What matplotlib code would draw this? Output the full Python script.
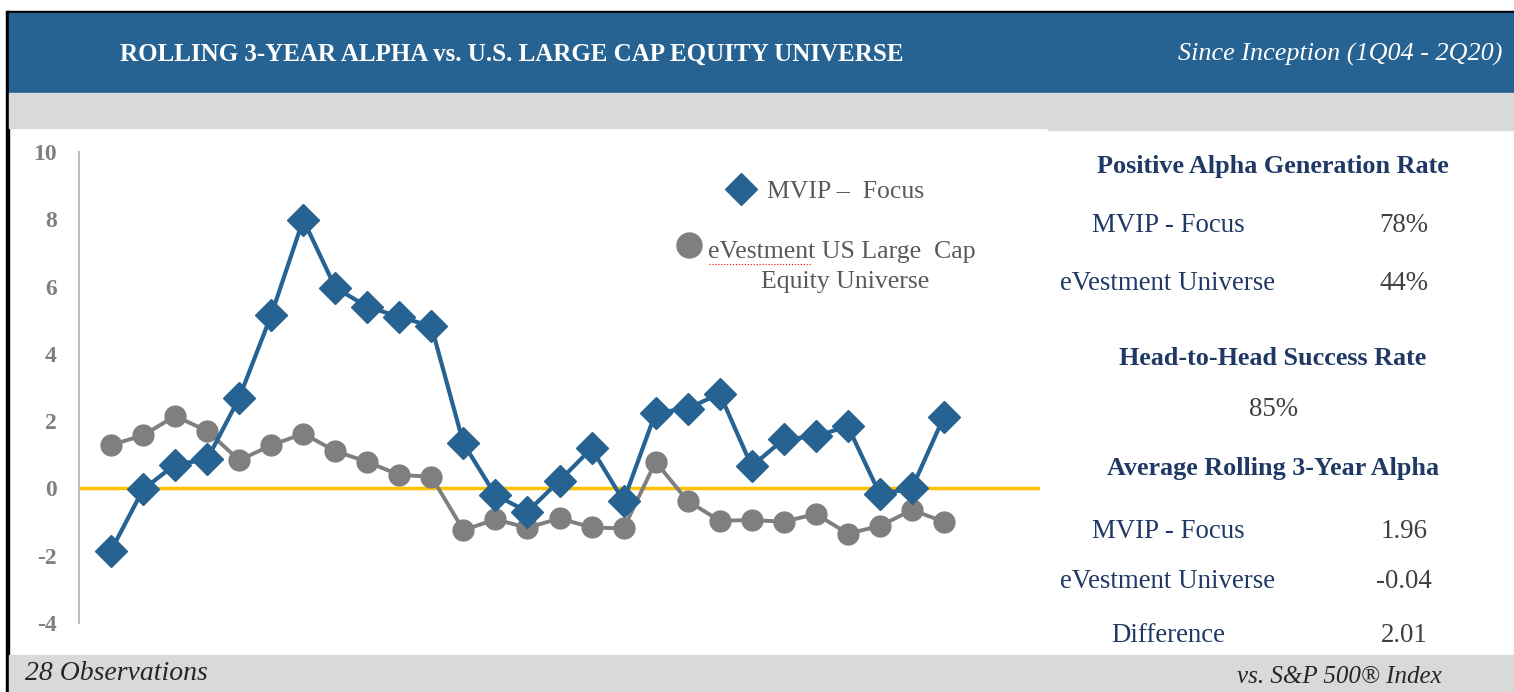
import numpy as np
import matplotlib
matplotlib.use('Agg')
import matplotlib.pyplot as plt
from matplotlib.lines import Line2D
from matplotlib.patches import Rectangle

plt.rcParams['font.family'] = ['Liberation Serif', 'DejaVu Serif']
plt.rcParams['axes.unicode_minus'] = False

# rolling 3-year alpha
mvip = [-1.85, -0.03, 0.71, 0.86, 2.69, 5.15, 7.99, 5.97, 5.40, 5.10, 4.82, 1.34, -0.20, -0.69,
        0.23, 1.19, -0.37, 2.25, 2.37, 2.82, 0.66, 1.46, 1.55, 1.85, -0.17, 0.00, 2.13]
evest = [1.29, 1.58, 2.15, 1.71, 0.84, 1.28, 1.63, 1.11, 0.79, 0.40, 0.35, -1.24, -0.92, -1.17,
         -0.89, -1.16, -1.19, 0.79, -0.37, -0.96, -0.94, -0.99, -0.76, -1.34, -1.12, -0.64, -0.99]
yticks = [-4, -2, 0, 2, 4, 6, 8, 10]

# stats panel
rateLabels = ['MVIP - Focus', 'eVestment Universe']
rateValues = ['78%', '44%']
h2hValue = '85%'
avgLabels = ['MVIP - Focus', 'eVestment Universe', 'Difference']
avgValues = ['1.96', '-0.04', '2.01']

BLUE = '#276392'
GRAY = '#7f7f7f'
NAVY = '#1f3864'
W, H = 1514, 692

fig = plt.figure(figsize=(W / 100, H / 100), dpi=100)

def fx(x):
    return x / W

def fy(y):
    return 1 - y / H

def box(x0, y0, x1, y1, color):
    fig.patches.append(Rectangle((fx(x0), fy(y1)), fx(x1 - x0), (y1 - y0) / H,
                                 transform=fig.transFigure, color=color, zorder=0))

def txt(x, y, s, **kw):
    fig.text(fx(x), fy(y), s, va='center', **kw)

# background bands
box(6, 11, W, 13, 'black')
box(6, 11, 9, H, 'black')
box(9, 13, W, 93, BLUE)
box(9, 93, W, 128, '#d9d9d9')
box(1048, 128, W, 130, '#d9d9d9')
box(9, 655, W, H, '#d9d9d9')

txt(120, 54, 'ROLLING 3-YEAR ALPHA vs. U.S. LARGE CAP EQUITY UNIVERSE', color='white',
    fontsize=18, fontweight='bold')
txt(1502, 54, 'Since Inception (1Q04 - 2Q20)', color='white', fontsize=18.8,
    style='italic', ha='right')
txt(25, 674, '28 Observations', color='#262626', fontsize=20, style='italic')
txt(1442, 677, 'vs. S&P 500® Index', color='#262626', fontsize=18, style='italic', ha='right')

# main chart
ax = fig.add_axes([fx(79), fy(623), fx(1040 - 79), (623 - 152) / H])
x = np.arange(1, len(mvip) + 1)
ax.axhline(0, color='#ffc000', lw=2.5, zorder=1)
ax.plot(x, evest, color=GRAY, lw=2.8, marker='o', ms=15, clip_on=False, zorder=2)
ax.plot(x, mvip, color=BLUE, lw=3, marker='D', ms=16, clip_on=False, zorder=3)
ax.set_xlim(0, 30)
ax.set_ylim(-4, 10)
ax.set_yticks(yticks)
ax.set_yticklabels([str(t) for t in yticks], color=GRAY, fontsize=17, fontweight='bold')
ax.tick_params(axis='y', length=0, pad=16)
ax.set_xticks([])
for s in ['top', 'right', 'bottom']:
    ax.spines[s].set_visible(False)
ax.spines['left'].set_color('#bfbfbf')
ax.spines['left'].set_linewidth(1.5)
ax.patch.set_alpha(0)

# legend drawn by hand
fig.add_artist(Line2D([fx(741)], [fy(189)], marker='D', ms=16, color=BLUE, transform=fig.transFigure))
txt(767, 192, 'MVIP –  Focus', color='#595959', fontsize=18.5)
fig.add_artist(Line2D([fx(689)], [fy(245)], marker='o', ms=18, color=GRAY, transform=fig.transFigure))
txt(708, 252, 'eVestment US Large  Cap', color='#595959', fontsize=18.5)
txt(845, 282, 'Equity Universe', color='#595959', fontsize=18.5, ha='center')
fig.add_artist(Line2D([fx(709), fx(812)], [fy(264), fy(264)], color='red', lw=0.8, ls=':',
                      transform=fig.transFigure))

# stats panel
def head(y, s):
    txt(1273, y, s, color=NAVY, fontsize=18.8, fontweight='bold', ha='center')

def row(y, label, value):
    txt(1168, y, label, color=NAVY, fontsize=19.4, ha='center')
    txt(1404, y, value, color='#404040', fontsize=19.4, ha='center')

head(167, 'Positive Alpha Generation Rate')
for y, l, v in zip([225, 284], rateLabels, rateValues):
    row(y, l, v)
head(358, 'Head-to-Head Success Rate')
txt(1273, 410, h2hValue, color='#404040', fontsize=19.4, ha='center')
head(469, 'Average Rolling 3-Year Alpha')
for y, l, v in zip([531, 581, 635], avgLabels, avgValues):
    row(y, l, v)

fig.savefig('out.png', dpi=100)
